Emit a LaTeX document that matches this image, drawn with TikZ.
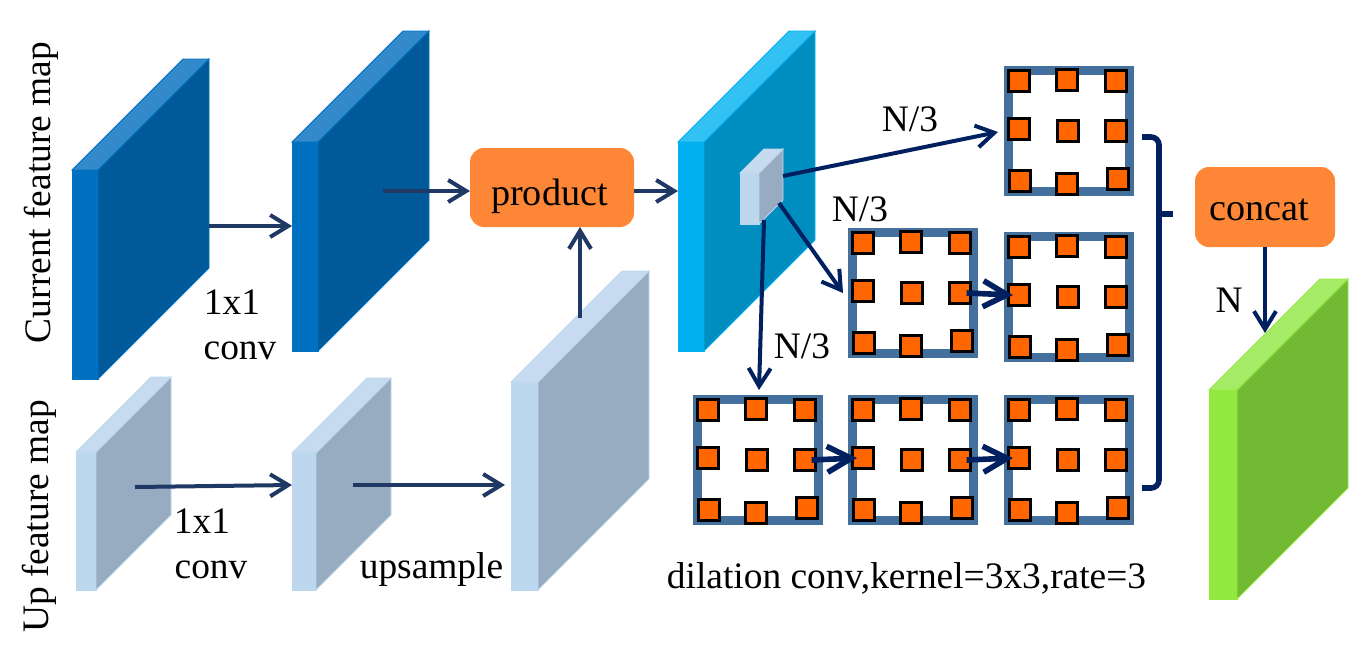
\documentclass[tikz,border=0pt]{standalone}
\usepackage{fontspec}
\setmainfont{Liberation Serif}
\usetikzlibrary{arrows.meta}

\definecolor{blueF}{HTML}{0070C0}
\definecolor{blueT}{HTML}{3489CB}
\definecolor{blueM}{HTML}{005A9A}
\definecolor{paleF}{HTML}{BDD7EE}
\definecolor{paleT}{HTML}{C6DBEF}
\definecolor{paleM}{HTML}{97ACC0}
\definecolor{cyanF}{HTML}{00B0F0}
\definecolor{cyanT}{HTML}{33C0F3}
\definecolor{cyanM}{HTML}{008DC0}
\definecolor{limeF}{HTML}{92E83F}
\definecolor{limeT}{HTML}{A5EC66}
\definecolor{limeM}{HTML}{73BA34}
\definecolor{boxorange}{HTML}{FD8637}
\definecolor{cellorange}{HTML}{FF6600}
\definecolor{framecol}{HTML}{44709D}
\definecolor{navyA}{HTML}{1F3864}
\definecolor{navyB}{HTML}{002060}

% name, x, y, width, height, depth, colour
\newcommand{\featmap}[7]{
	\node [face, fill=#7F, draw=#7F, anchor=north west, minimum width=#4*0.5pt, minimum height=#5*0.5pt] (#1) at (#2,#3) {};
	\fill [#7M, draw=#7F] (#1.north east) -- ++(#6,-#6) -- ++(0,#5) -- (#1.south east) -- cycle;
	\fill [#7T, draw=#7F] (#1.north west) -- ++(#6,-#6) -- ++(#4,0) -- (#1.north east) -- cycle;
}

% name, x, y
\newcommand{\dilgrid}[3]{
	\node [gridbox] (#1) at (#2+65,#3+65) {};
	\foreach \i/\dx/\dy in {1/15/15, 2/63/14, 3/112/15, 4/15/63, 5/64/65, 6/112/65, 7/16/115, 8/63/118, 9/114/113}
		\node [cell] (#1-\i) at (#2+\dx,#3+\dy) {};
}

\begin{document}
\begin{tikzpicture}[x=0.5pt, y=-0.5pt, >={Straight Barb[length=9pt,width=11pt]}]
	\tikzstyle{face}=[inner sep=0pt, outer sep=0pt, line width=0.5pt]
	\tikzstyle{gridbox}=[draw=framecol, line width=4.3pt, fill=white, minimum size=60.7pt, inner sep=0pt, outer sep=0pt]
	\tikzstyle{cell}=[draw=black, fill=cellorange, line width=1.4pt, minimum size=10.6pt, inner sep=0pt, outer sep=0pt]
	\tikzstyle{opbox}=[fill=boxorange, rounded corners=7pt, inner sep=0pt, outer sep=0pt, text depth=0pt, font=\fontsize{19.1}{22}\selectfont]
	\tikzstyle{txt}=[anchor=base, inner sep=0pt, font=\fontsize{18.7}{22}\selectfont]
	\tikzstyle{flow}=[->, navyA, line width=2pt]
	\tikzstyle{split}=[->, navyB, line width=2pt]
	\tikzstyle{hop}=[-{Straight Barb[length=12pt,width=13pt]}, navyB, line width=2.8pt]

	\useasboundingbox (0,0) rectangle (1366,655);

	% feature maps
	\featmap{curA}{72}{170}{26}{209}{111}{blue}
	\featmap{curB}{292}{142}{26}{209}{111}{blue}
	\featmap{upA}{76}{452}{20}{138}{75}{pale}
	\featmap{upB}{292}{453}{24}{137}{75}{pale}
	\featmap{upC}{511}{382}{27}{208}{111}{pale}
	\featmap{merged}{678}{142}{26}{209}{111}{cyan}
	\featmap{patch}{740}{173}{19}{51}{24}{pale}
	\featmap{output}{1209}{390}{28}{209}{111}{lime}

	% operations
	\node [opbox, minimum width=82pt, minimum height=39.5pt, text height=17.5pt] (product) at (552,187.5) {product\kern2.5pt};
	\node [opbox, minimum width=70pt, minimum height=40pt, text height=13pt] (concat) at (1265,207) {concat\kern6pt};

	% dilated kernels
	\dilgrid{gTop}{1004}{66}
	\dilgrid{gMidL}{848}{228}
	\dilgrid{gMidR}{1004}{232}
	\dilgrid{gLowA}{693}{395}
	\dilgrid{gLowB}{848}{395}
	\dilgrid{gLowC}{1004}{395}

	% labels
	\node [txt, rotate=90] (curlabel) at (50,192.5) {Current feature map};
	\node [txt, rotate=90] (uplabel) at (48,516.5) {Up feature map};
	\node [txt] (convA) at (232,314) {1x1};
	\node [txt] (convB) at (240,359) {conv};
	\node [txt] (convC) at (202,533) {1x1};
	\node [txt] (convD) at (211,578) {conv};
	\node [txt] (upsample) at (431.5,578) {upsample};
	\node [txt] (nTop) at (910,131) {N/3};
	\node [txt] (nMid) at (860,221) {N/3};
	\node [txt] (nLow) at (802,358) {N/3};
	\node [txt] (nOut) at (1229,312) {N};
	\node [txt] (dilation) at (906.5,588) {dilation conv,kernel=3x3,rate=3};

	% free ends
	\coordinate (curAout) at (209,226);
	\coordinate (curBout) at (383,191);
	\coordinate (prodout) at (634,191);
	\coordinate (upCout) at (580,318);
	\coordinate (upAout) at (135,487);
	\coordinate (upBin) at (292,485);
	\coordinate (upBout) at (353,485);
	\coordinate (patchA) at (783,176);
	\coordinate (patchB) at (779,203);
	\coordinate (patchC) at (764,220);
	\coordinate (gTopin) at (998,132);
	\coordinate (gMidin) at (843,293);
	\coordinate (gLowin) at (759,390);

	% connectors
	\draw [flow] (curAout) -- (curAout -| curB.west);
	\draw [flow] (curBout) -- (curBout -| product.west);
	\draw [flow] (prodout) -- (prodout -| merged.west);
	\draw [flow] (upCout) -- (upCout |- product.south);
	\draw [flow] (upAout) -- (upBin);
	\draw [flow] (upBout) -- ([xshift=-3pt]upBout -| upC.west);
	\draw [split] (patchA) -- (gTopin);
	\draw [split] (patchB) -- (gMidin);
	\draw [split] (patchC) -- (gLowin);
	\draw [hop] ([xshift=-2pt]gMidL-6.east) -- ([xshift=-3pt]gMidR-4.center);
	\draw [hop] ([xshift=-2pt]gLowA-6.east) -- ([xshift=-3pt]gLowB-4.center);
	\draw [hop] ([xshift=-2pt]gLowB-6.east) -- ([xshift=-3pt]gLowC-4.center);
	\draw [split] (concat.south) -- ++(0,86);

	% bracket
	\draw [navyB, line width=2.8pt, rounded corners=4pt] (1142,137) -- (1159,137) -- (1159,488) -- (1142,488);
	\draw [navyB, line width=2.8pt] (1158,214) -- (1173,214);
\end{tikzpicture}
\end{document}
